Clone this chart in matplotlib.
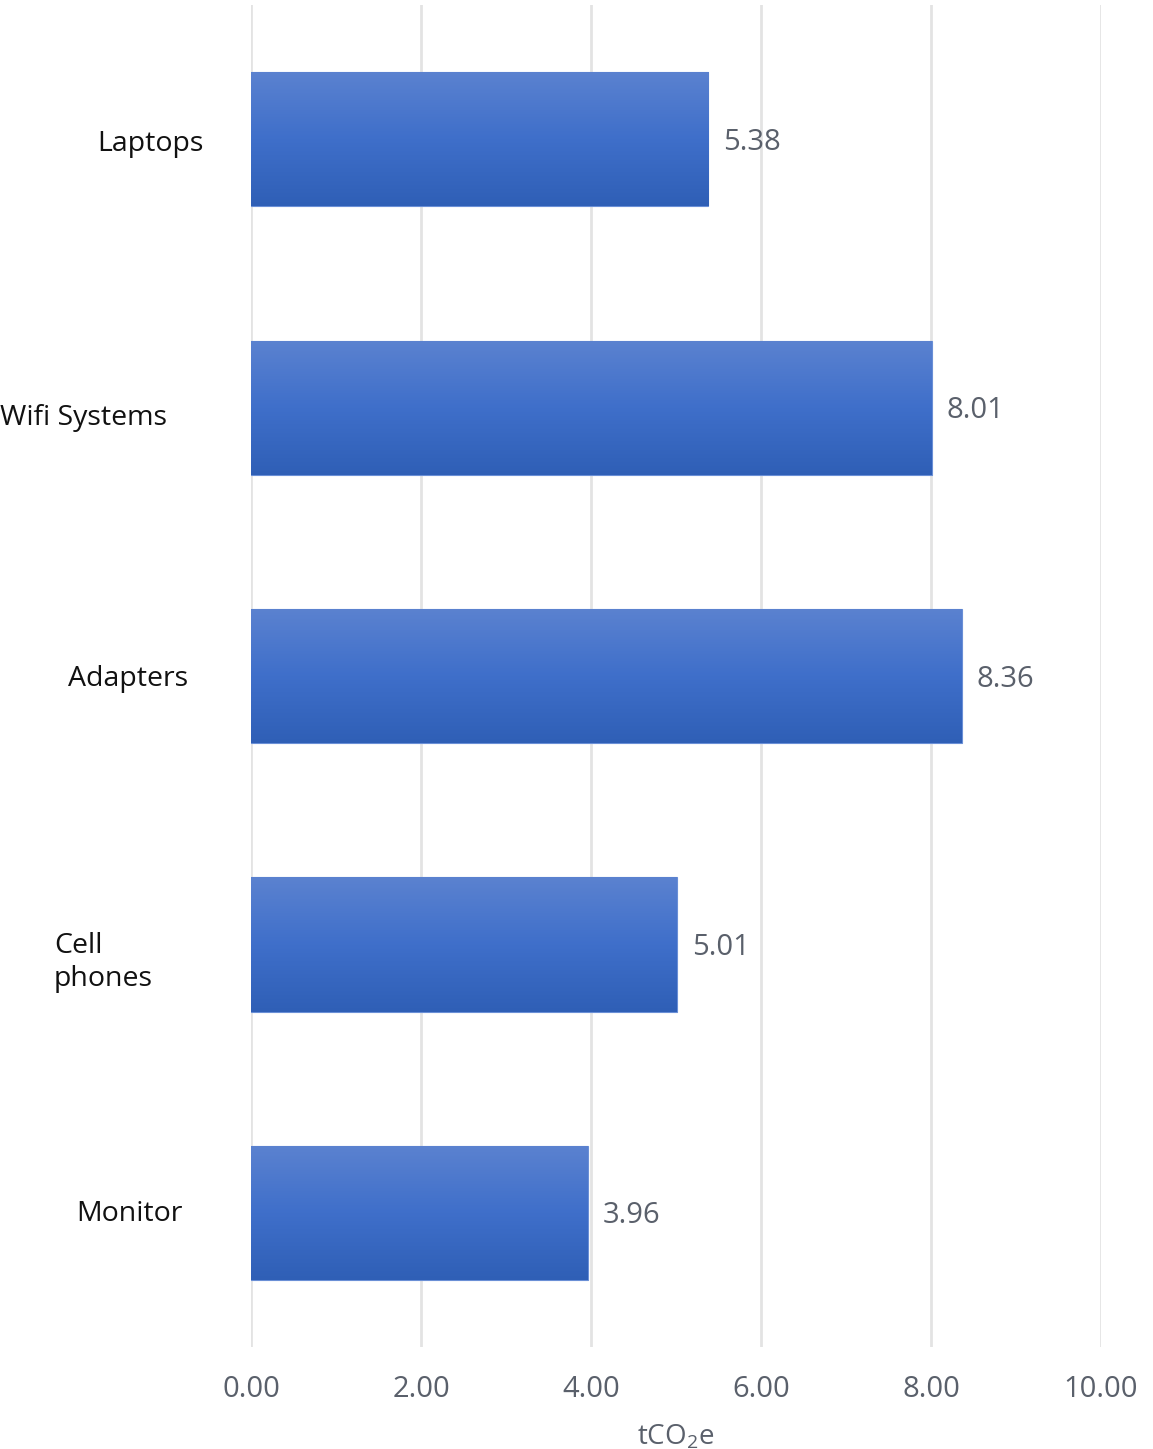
import numpy as np
import matplotlib
matplotlib.use("Agg")
import matplotlib.pyplot as plt
from matplotlib.colors import LinearSegmentedColormap
from matplotlib import transforms

plt.rcParams["mathtext.fontset"] = "custom"
plt.rcParams["mathtext.rm"] = "Open Sans"
plt.rcParams["mathtext.it"] = "Open Sans"
plt.rcParams["mathtext.default"] = "rm"

# Data
categories = ["Laptops", "Wifi Systems", "Adapters", "Cell\nphones", "Monitor"]
values = [5.38, 8.01, 8.36, 5.01, 3.96]
xticks = [0, 2, 4, 6, 8, 10]
xlabel = "tCO$_2$e"

# Category label placement (left edge in px, vertical shift in px)
label_left_px = [97, 0, 68, 54, 76]
label_dy_px = [-5, -10, -3, -18, -1]

W, H = 1153, 1449
fig = plt.figure(figsize=(W / 100, H / 100), dpi=100)
ax = fig.add_axes([251 / W, 1 - 1347 / H, 850 / W, 1342 / H])

ypos = np.arange(len(categories))
bars = ax.barh(ypos, values, height=0.5, color="#3f6fc9", edgecolor="#6a8fd6",
               linewidth=0.8, zorder=2)

# vertical gradient inside each bar
cmap = LinearSegmentedColormap.from_list("bar", ["#5b82d0", "#3f6fca", "#2f5fb6"])
grad = np.linspace(0, 1, 256).reshape(-1, 1)
for b in bars:
    x0, y0, w, h = b.get_x(), b.get_y(), b.get_width(), b.get_height()
    im = ax.imshow(grad, cmap=cmap, aspect="auto", origin="upper",
                   extent=(x0, x0 + w, y0 + h, y0), zorder=2.5,
                   interpolation="bilinear")
    im.set_clip_path(b)

ax.set_xlim(0, 10)
ax.set_ylim(len(categories) - 0.5, -0.5)
ax.set_xticks(xticks)
ax.set_xticklabels([f"{t:.2f}" for t in xticks], fontsize=21,
                   color="#5a606b", family=["Open Sans", "DejaVu Sans"])
ax.tick_params(axis="x", length=0, pad=20)
ax.set_yticks([])
ax.grid(axis="x", color="#e3e3e3", linewidth=2, zorder=0)
for s in ax.spines.values():
    s.set_visible(False)
ax.set_aspect("auto")

# axis title
fig.text(676 / W, 1 - 1437 / H, xlabel, fontsize=20, color="#5a606b",
         ha="center", va="center", family=["Open Sans", "DejaVu Sans"])

# value labels
for v, y in zip(values, ypos):
    ax.annotate(f"{v:.2f}", xy=(v, y), xytext=(15, -3), textcoords="offset pixels",
                ha="left", va="center", fontsize=21, color="#5a606b",
                family=["Open Sans", "DejaVu Sans"])

# category labels
for cat, y, lx, dy in zip(categories, ypos, label_left_px, label_dy_px):
    tr = transforms.blended_transform_factory(fig.transFigure, ax.transData)
    tr = transforms.offset_copy(tr, fig=fig, x=0, y=dy, units="dots")
    ax.text(lx / W, y, cat, transform=tr, ha="left", va="center",
            fontsize=20.5, color="#111111", linespacing=1.2,
            family=["Open Sans", "DejaVu Sans"])

fig.savefig("out.png", dpi=100, facecolor="white")
